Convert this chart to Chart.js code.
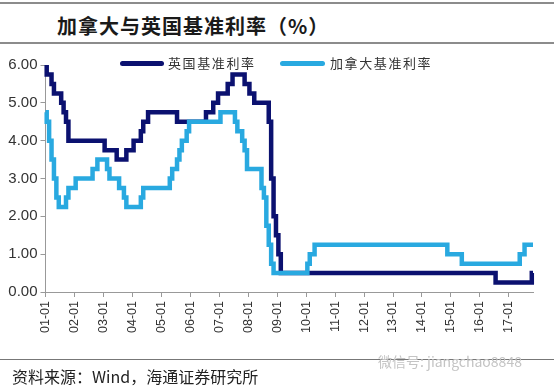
<!DOCTYPE html>
<html>
<head>
<meta charset="utf-8">
<script src="https://cdn.jsdelivr.net/npm/chart.js@4/dist/chart.umd.min.js"></script>
<style>
  body { margin: 0; background: #fff; }
  #page { position: relative; width: 554px; height: 387px; overflow: hidden; font-family: "Noto Sans CJK SC", sans-serif; }
  .rule { position: absolute; left: 0; width: 554px; height: 2px; background: #8c8c8c; }
  #title { position: absolute; left: 57px; top: 12px; font-size: 20px; line-height: 28px; font-weight: bold; color: #1a1a1a; letter-spacing: 1px; }
  #wrap { position: absolute; left: 0; top: 48px; width: 554px; height: 310px; }
  .key { position: absolute; height: 5px; border-radius: 3px; }
  .keytext { position: absolute; font-size: 13px; line-height: 16px; color: #333; letter-spacing: 1.6px; }
  #source { position: absolute; left: 12px; top: 364px; font-size: 16px; line-height: 24px; color: #222; }
  #mark { position: absolute; left: 378px; top: 352px; font-size: 14px; line-height: 18px; color: #c4c4c4; }
</style>
</head>
<body>
<div id="page">
  <div class="rule" style="top:2px"></div>
  <div id="title">加拿大与英国基准利率（%）</div>
  <div class="rule" style="top:42px"></div>
  <div id="wrap"><canvas id="rateChart" width="554" height="310"></canvas></div>
  <div class="key" style="left:120px; top:61px; width:44px; background:#0b1170"></div>
  <div class="keytext" style="left:168px; top:55px">英国基准利率</div>
  <div class="key" style="left:280px; top:61px; width:45px; background:#29a9e0"></div>
  <div class="keytext" style="left:330px; top:55px">加拿大基准利率</div>
  <div class="rule" style="top:359px; height:1px; background:#777"></div>
  <div id="mark">微信号: jiangchao8848</div>
  <div id="source">资料来源：Wind，海通证券研究所</div>
</div>
<script>
// 月度标签 01-01 ... 17-11
const months = [];
for (let y = 1; y <= 17; y++) {
    for (let m = 1; m <= 12; m++) {
        if (y === 17 && m > 11) break;
        months.push(String(y).padStart(2, '0') + '-' + String(m).padStart(2, '0'));
    }
}

// 英国基准利率（%），每行一年
const ukRate = [
    6.00, 5.75, 5.75, 5.50, 5.25, 5.25, 5.25, 5.00, 4.75, 4.50, 4.00, 4.00,
    4.00, 4.00, 4.00, 4.00, 4.00, 4.00, 4.00, 4.00, 4.00, 4.00, 4.00, 4.00,
    4.00, 3.75, 3.75, 3.75, 3.75, 3.75, 3.50, 3.50, 3.50, 3.50, 3.75, 3.75,
    3.75, 4.00, 4.00, 4.00, 4.25, 4.50, 4.50, 4.75, 4.75, 4.75, 4.75, 4.75,
    4.75, 4.75, 4.75, 4.75, 4.75, 4.75, 4.75, 4.50, 4.50, 4.50, 4.50, 4.50,
    4.50, 4.50, 4.50, 4.50, 4.50, 4.50, 4.50, 4.75, 4.75, 4.75, 5.00, 5.00,
    5.25, 5.25, 5.25, 5.25, 5.50, 5.50, 5.75, 5.75, 5.75, 5.75, 5.75, 5.50,
    5.50, 5.25, 5.25, 5.00, 5.00, 5.00, 5.00, 5.00, 5.00, 4.50, 3.00, 2.00,
    1.50, 1.00, 0.50, 0.50, 0.50, 0.50, 0.50, 0.50, 0.50, 0.50, 0.50, 0.50,
    0.50, 0.50, 0.50, 0.50, 0.50, 0.50, 0.50, 0.50, 0.50, 0.50, 0.50, 0.50,
    0.50, 0.50, 0.50, 0.50, 0.50, 0.50, 0.50, 0.50, 0.50, 0.50, 0.50, 0.50,
    0.50, 0.50, 0.50, 0.50, 0.50, 0.50, 0.50, 0.50, 0.50, 0.50, 0.50, 0.50,
    0.50, 0.50, 0.50, 0.50, 0.50, 0.50, 0.50, 0.50, 0.50, 0.50, 0.50, 0.50,
    0.50, 0.50, 0.50, 0.50, 0.50, 0.50, 0.50, 0.50, 0.50, 0.50, 0.50, 0.50,
    0.50, 0.50, 0.50, 0.50, 0.50, 0.50, 0.50, 0.50, 0.50, 0.50, 0.50, 0.50,
    0.50, 0.50, 0.50, 0.50, 0.50, 0.50, 0.50, 0.25, 0.25, 0.25, 0.25, 0.25,
    0.25, 0.25, 0.25, 0.25, 0.25, 0.25, 0.25, 0.25, 0.25, 0.25, 0.50
];

// 加拿大基准利率（%）
const caRate = [
    4.75, 4.50, 4.00, 3.50, 3.00, 2.50, 2.25, 2.25, 2.25, 2.50, 2.75, 2.75,
    2.75, 3.00, 3.00, 3.00, 3.00, 3.00, 3.00, 3.00, 3.25, 3.25, 3.50, 3.50,
    3.50, 3.50, 3.25, 3.00, 3.00, 3.00, 3.00, 2.75, 2.75, 2.50, 2.25, 2.25,
    2.25, 2.25, 2.25, 2.25, 2.50, 2.75, 2.75, 2.75, 2.75, 2.75, 2.75, 2.75,
    2.75, 2.75, 2.75, 2.75, 3.00, 3.25, 3.25, 3.50, 3.75, 4.00, 4.00, 4.25,
    4.50, 4.50, 4.50, 4.50, 4.50, 4.50, 4.50, 4.50, 4.50, 4.50, 4.50, 4.50,
    4.50, 4.75, 4.75, 4.75, 4.75, 4.75, 4.75, 4.50, 4.25, 4.25, 4.00, 3.75,
    3.25, 3.25, 3.25, 3.25, 3.25, 3.25, 2.75, 2.50, 1.75, 1.25, 0.75, 0.50,
    0.50, 0.50, 0.50, 0.50, 0.50, 0.50, 0.50, 0.50, 0.50, 0.50, 0.50, 0.50,
    0.50, 0.75, 1.00, 1.00, 1.25, 1.25, 1.25, 1.25, 1.25, 1.25, 1.25, 1.25,
    1.25, 1.25, 1.25, 1.25, 1.25, 1.25, 1.25, 1.25, 1.25, 1.25, 1.25, 1.25,
    1.25, 1.25, 1.25, 1.25, 1.25, 1.25, 1.25, 1.25, 1.25, 1.25, 1.25, 1.25,
    1.25, 1.25, 1.25, 1.25, 1.25, 1.25, 1.25, 1.25, 1.25, 1.25, 1.25, 1.25,
    1.25, 1.25, 1.25, 1.25, 1.25, 1.25, 1.25, 1.25, 1.25, 1.25, 1.25, 1.00,
    1.00, 1.00, 1.00, 1.00, 1.00, 0.75, 0.75, 0.75, 0.75, 0.75, 0.75, 0.75,
    0.75, 0.75, 0.75, 0.75, 0.75, 0.75, 0.75, 0.75, 0.75, 0.75, 0.75, 0.75,
    0.75, 0.75, 0.75, 0.75, 0.75, 1.00, 1.00, 1.25, 1.25, 1.25, 1.25
];

const yTicks = [0, 1, 2, 3, 4, 5, 6];

const ctx = document.getElementById('rateChart').getContext('2d');
new Chart(ctx, {
    type: 'line',
    data: {
        labels: months,
        datasets: [{
            label: '加拿大基准利率',
            data: caRate,
            borderColor: '#29a9e0',
            borderWidth: 4.5,
            pointRadius: 0,
            stepped: 'middle',
            fill: false
        }, {
            label: '英国基准利率',
            data: ukRate,
            borderColor: '#0b1170',
            borderWidth: 4.5,
            pointRadius: 0,
            stepped: 'middle',
            fill: false
        }]
    },
    options: {
        responsive: false,
        animation: false,
        devicePixelRatio: 1,
        layout: { padding: { top: 17, right: 21, left: 0, bottom: 0 } },
        plugins: {
            legend: { display: false },
            tooltip: { enabled: false }
        },
        scales: {
            x: {
                type: 'category',
                offset: false,
                border: { color: '#999' },
                grid: { drawOnChartArea: false, color: '#999', tickLength: 5 },
                ticks: {
                    autoSkip: false,
                    minRotation: 90,
                    maxRotation: 90,
                    padding: 4,
                    color: '#333',
                    font: { family: 'Liberation Sans', size: 12.5 },
                    callback: function (value) {
                        const l = this.getLabelForValue(value);
                        return l.endsWith('-01') ? l : null;
                    }
                },
                afterFit: function (scale) { scale.height = 66; }
            },
            y: {
                min: 0,
                max: 6,
                afterBuildTicks: function (scale) {
                    scale.ticks = yTicks.map(v => ({ value: v }));
                },
                border: { color: '#999' },
                grid: { drawOnChartArea: false, color: '#999', tickLength: 5 },
                ticks: {
                    padding: 3,
                    color: '#333',
                    font: { family: 'Liberation Sans', size: 15 },
                    callback: v => v.toFixed(2)
                },
                afterFit: function (scale) { scale.width = 45.5; }
            }
        }
    }
});
</script>
</body>
</html>
